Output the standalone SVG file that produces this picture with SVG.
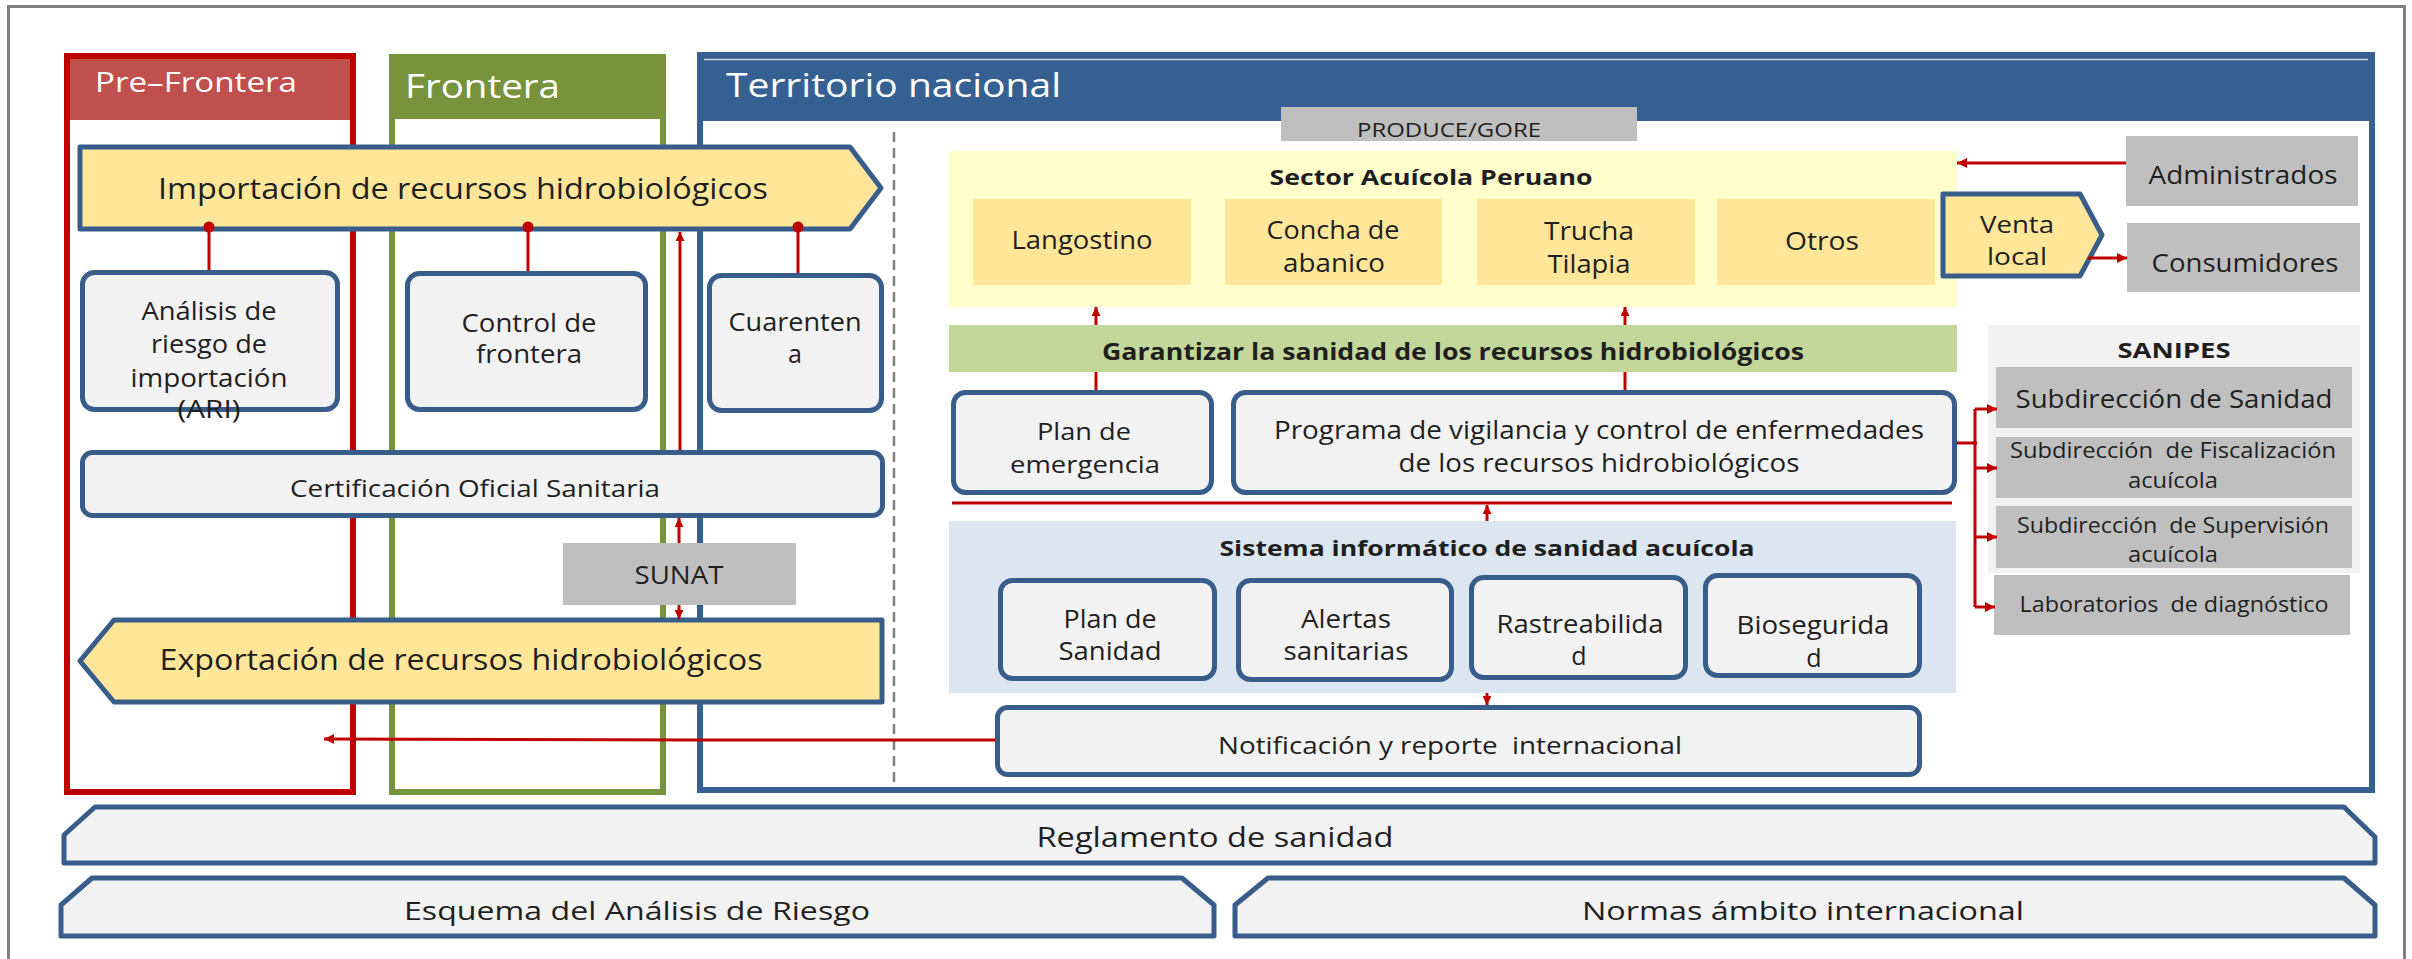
<svg xmlns="http://www.w3.org/2000/svg" width="2412" height="959" viewBox="0 0 2412 959">
<defs>
<style>
text { font-family: "Open Sans", "Liberation Sans", Arial, sans-serif; fill: #1f1f1f; text-anchor: middle; }
.b { font-weight: bold; }
.hdr { fill: #ffffff; text-anchor: start; }
.box { fill: #F2F2F2; stroke: #385D8A; stroke-width: 5; }
.arrowshape { fill: #FFE699; stroke: #385D8A; stroke-width: 5; stroke-linejoin: round; }
.banner { fill: #F2F2F2; stroke: #385D8A; stroke-width: 5; stroke-linejoin: round; }
.gray { fill: #BFBFBF; }
.sp { fill: #FFE699; }
.con { stroke: #C00000; stroke-width: 3; fill: none; }
.pre { white-space: pre; }
</style>
<marker id="ah" viewBox="0 0 10 10" refX="10" refY="5" markerUnits="userSpaceOnUse" markerWidth="13" markerHeight="10" orient="auto">
<path d="M0,0 L10,5 L0,10 z" fill="#C00000"/>
</marker>
<marker id="ahs" viewBox="0 0 10 10" refX="10" refY="5" markerUnits="userSpaceOnUse" markerWidth="11" markerHeight="9" orient="auto">
<path d="M0,0 L10,5 L0,10 z" fill="#C00000"/>
</marker>
</defs>

<rect x="0" y="0" width="2412" height="959" fill="#ffffff"/>
<rect id="frame" x="8.5" y="6.5" width="2396" height="970" fill="none" stroke="#808080" stroke-width="3"/>

<!-- Columns -->
<g id="col-prefrontera">
<rect x="67" y="56" width="286" height="736" fill="#ffffff"/>
<rect x="67" y="56" width="286" height="64" fill="#C0504D"/>
<rect x="67" y="56" width="286" height="736" fill="none" stroke="#C00000" stroke-width="6"/>
<text class="hdr" x="95" y="92" font-size="28" textLength="202" lengthAdjust="spacingAndGlyphs">Pre–Frontera</text>
</g>
<g id="col-frontera">
<rect x="392" y="57" width="271" height="735" fill="#ffffff"/>
<rect x="392" y="57" width="271" height="62" fill="#77933C"/>
<rect x="392" y="57" width="271" height="735" fill="none" stroke="#77933C" stroke-width="6"/>
<text class="hdr" x="405" y="98" font-size="32" textLength="155" lengthAdjust="spacingAndGlyphs">Frontera</text>
</g>
<g id="col-territorio">
<rect x="700" y="55" width="1672" height="735" fill="#ffffff"/>
<rect x="700" y="55" width="1672" height="66" fill="#376092"/>
<rect x="700" y="55" width="1672" height="735" fill="none" stroke="#376092" stroke-width="6"/>
<line x1="704" y1="59.5" x2="2368" y2="59.5" stroke="#c9d3e0" stroke-width="1.5"/>
<text class="hdr" x="726" y="97" font-size="33" textLength="335" lengthAdjust="spacingAndGlyphs">Territorio nacional</text>
<line x1="894" y1="132" x2="894" y2="786" stroke="#808080" stroke-width="2.5" stroke-dasharray="10,6"/>
</g>

<!-- Left side nodes -->
<g id="importacion">
<polygon class="arrowshape" points="80,147 850,147 881,188 850,229 80,229"/>
<text x="463" y="199" font-size="30" textLength="610" lengthAdjust="spacingAndGlyphs">Importación de recursos hidrobiológicos</text>
</g>
<g id="ari">
<rect class="box" x="82.5" y="272.5" width="255" height="137" rx="12"/>
<text x="209" y="320" font-size="25" textLength="135" lengthAdjust="spacingAndGlyphs">Análisis de</text>
<text x="209" y="353" font-size="25" textLength="116" lengthAdjust="spacingAndGlyphs">riesgo de</text>
<text x="209" y="387" font-size="25" textLength="157" lengthAdjust="spacingAndGlyphs">importación</text>
<text x="209" y="418" font-size="25" textLength="63" lengthAdjust="spacingAndGlyphs">(ARI)</text>
</g>
<g id="control-frontera">
<rect class="box" x="407.5" y="273.5" width="238" height="136" rx="12"/>
<text x="529" y="332" font-size="25" textLength="135" lengthAdjust="spacingAndGlyphs">Control de</text>
<text x="529" y="363" font-size="25" textLength="106" lengthAdjust="spacingAndGlyphs">frontera</text>
</g>
<g id="cuarentena">
<rect class="box" x="709.5" y="275.5" width="172" height="135" rx="12"/>
<text x="795" y="331" font-size="25" textLength="133" lengthAdjust="spacingAndGlyphs">Cuarenten</text>
<text x="795" y="363" font-size="25">a</text>
</g>
<g id="certificacion">
<rect class="box" x="82.5" y="452.5" width="800" height="63" rx="10"/>
<text x="475" y="497" font-size="24" textLength="370" lengthAdjust="spacingAndGlyphs">Certificación Oficial Sanitaria</text>
</g>
<g id="sunat">
<rect class="gray" x="563" y="543" width="233" height="62"/>
<text x="679" y="584" font-size="25" textLength="89" lengthAdjust="spacingAndGlyphs">SUNAT</text>
</g>
<g id="exportacion">
<polygon class="arrowshape" points="114,620 882,620 882,702 114,702 80,661"/>
<text x="461" y="670" font-size="30" textLength="603" lengthAdjust="spacingAndGlyphs">Exportación de recursos hidrobiológicos</text>
</g>

<!-- Territorio nacional nodes -->
<g id="produce-gore">
<rect class="gray" x="1281" y="107" width="356" height="34"/>
<text x="1449" y="137" font-size="20" textLength="184" lengthAdjust="spacingAndGlyphs">PRODUCE/GORE</text>
</g>
<g id="sector-acuicola">
<rect x="949" y="151" width="1008" height="156" fill="#FFFFCC"/>
<text class="b" x="1431" y="185" font-size="22" textLength="323" lengthAdjust="spacingAndGlyphs">Sector Acuícola Peruano</text>
<rect class="sp" x="973" y="199" width="218" height="86"/>
<text x="1082" y="249" font-size="25" textLength="141" lengthAdjust="spacingAndGlyphs">Langostino</text>
<rect class="sp" x="1225" y="199" width="217" height="86"/>
<text x="1333" y="239" font-size="25" textLength="133" lengthAdjust="spacingAndGlyphs">Concha de</text>
<text x="1334" y="272" font-size="25" textLength="102" lengthAdjust="spacingAndGlyphs">abanico</text>
<rect class="sp" x="1477" y="199" width="218" height="86"/>
<text x="1589" y="240" font-size="25" textLength="90" lengthAdjust="spacingAndGlyphs">Trucha</text>
<text x="1589" y="273" font-size="25" textLength="83" lengthAdjust="spacingAndGlyphs">Tilapia</text>
<rect class="sp" x="1717" y="199" width="218" height="86"/>
<text x="1822" y="250" font-size="25" textLength="74" lengthAdjust="spacingAndGlyphs">Otros</text>
</g>
<g id="venta-local">
<polygon class="arrowshape" points="1943,194 2080,194 2102,235 2080,276 1943,276"/>
<text x="2017" y="233" font-size="23" textLength="74" lengthAdjust="spacingAndGlyphs">Venta</text>
<text x="2017" y="265" font-size="23" textLength="60" lengthAdjust="spacingAndGlyphs">local</text>
</g>
<g id="administrados">
<rect class="gray" x="2126" y="136" width="232" height="70"/>
<text x="2243" y="184" font-size="25" textLength="189" lengthAdjust="spacingAndGlyphs">Administrados</text>
</g>
<g id="consumidores">
<rect class="gray" x="2127" y="223" width="233" height="69"/>
<text x="2245" y="272" font-size="25" textLength="187" lengthAdjust="spacingAndGlyphs">Consumidores</text>
</g>
<g id="garantizar">
<rect x="949" y="325" width="1008" height="47" fill="#C4D79B"/>
<text class="b" x="1453" y="360" font-size="23" textLength="702" lengthAdjust="spacingAndGlyphs">Garantizar la sanidad de los recursos hidrobiológicos</text>
</g>
<g id="plan-emergencia">
<rect class="box" x="953.5" y="392.5" width="258" height="100" rx="12"/>
<text x="1084" y="440" font-size="24" textLength="94" lengthAdjust="spacingAndGlyphs">Plan de</text>
<text x="1085" y="473" font-size="24" textLength="150" lengthAdjust="spacingAndGlyphs">emergencia</text>
</g>
<g id="programa-vigilancia">
<rect class="box" x="1233.5" y="392.5" width="721" height="100" rx="12"/>
<text x="1599" y="439" font-size="25" textLength="650" lengthAdjust="spacingAndGlyphs">Programa de vigilancia y control de enfermedades</text>
<text x="1599" y="472" font-size="25" textLength="401" lengthAdjust="spacingAndGlyphs">de los recursos hidrobiológicos</text>
</g>
<g id="sistema-informatico">
<rect x="949" y="521" width="1007" height="172" fill="#DCE6F1"/>
<text class="b" x="1487" y="556" font-size="22" textLength="535" lengthAdjust="spacingAndGlyphs">Sistema informático de sanidad acuícola</text>
</g>
<g id="plan-sanidad">
<rect class="box" x="1000.5" y="580.5" width="214" height="98" rx="12"/>
<text x="1110" y="628" font-size="25" textLength="93" lengthAdjust="spacingAndGlyphs">Plan de</text>
<text x="1110" y="660" font-size="25" textLength="103" lengthAdjust="spacingAndGlyphs">Sanidad</text>
</g>
<g id="alertas">
<rect class="box" x="1238.5" y="580.5" width="213" height="99" rx="12"/>
<text x="1346" y="628" font-size="25" textLength="90" lengthAdjust="spacingAndGlyphs">Alertas</text>
<text x="1346" y="660" font-size="25" textLength="125" lengthAdjust="spacingAndGlyphs">sanitarias</text>
</g>
<g id="rastreabilidad">
<rect class="box" x="1471.5" y="577.5" width="214" height="100" rx="12"/>
<text x="1580" y="633" font-size="25" textLength="167" lengthAdjust="spacingAndGlyphs">Rastreabilida</text>
<text x="1579" y="665" font-size="25">d</text>
</g>
<g id="bioseguridad">
<rect class="box" x="1705.5" y="575.5" width="214" height="100" rx="12"/>
<text x="1813" y="634" font-size="25" textLength="153" lengthAdjust="spacingAndGlyphs">Biosegurida</text>
<text x="1814" y="667" font-size="25">d</text>
</g>
<g id="notificacion">
<rect class="box" x="997.5" y="707.5" width="922" height="67" rx="10"/>
<text class="pre" x="1450" y="754" font-size="24" textLength="464" lengthAdjust="spacingAndGlyphs">Notificación y reporte  internacional</text>
</g>
<g id="sanipes">
<rect x="1988" y="325" width="372" height="248" fill="#F2F2F2"/>
<text class="b" x="2174" y="358" font-size="21" textLength="113" lengthAdjust="spacingAndGlyphs">SANIPES</text>
<rect class="gray" x="1996" y="367" width="356" height="61"/>
<text x="2174" y="408" font-size="25" textLength="317" lengthAdjust="spacingAndGlyphs">Subdirección de Sanidad</text>
<rect class="gray" x="1996" y="437" width="356" height="61"/>
<text class="pre" x="2173" y="458" font-size="21" textLength="326" lengthAdjust="spacingAndGlyphs">Subdirección  de Fiscalización</text>
<text x="2173" y="488" font-size="21" textLength="90" lengthAdjust="spacingAndGlyphs">acuícola</text>
<rect class="gray" x="1996" y="506" width="356" height="62"/>
<text class="pre" x="2173" y="533" font-size="21" textLength="312" lengthAdjust="spacingAndGlyphs">Subdirección  de Supervisión</text>
<text x="2173" y="562" font-size="21" textLength="90" lengthAdjust="spacingAndGlyphs">acuícola</text>
</g>
<g id="laboratorios">
<rect class="gray" x="1994" y="575" width="356" height="60"/>
<text class="pre" x="2174" y="612" font-size="21" textLength="309" lengthAdjust="spacingAndGlyphs">Laboratorios  de diagnóstico</text>
</g>

<!-- Bottom banners -->
<g id="reglamento">
<polygon class="banner" points="64,863 64,835 95,807 2344,807 2375,837 2375,863"/>
<text x="1215" y="847" font-size="27" textLength="357" lengthAdjust="spacingAndGlyphs">Reglamento de sanidad</text>
</g>
<g id="esquema">
<polygon class="banner" points="61,936 61,905 92,878 1182,878 1214,905 1214,936"/>
<text x="637" y="920" font-size="26" textLength="466" lengthAdjust="spacingAndGlyphs">Esquema del Análisis de Riesgo</text>
</g>
<g id="normas">
<polygon class="banner" points="1235,936 1235,905 1268,878 2344,878 2375,905 2375,936"/>
<text x="1803" y="920" font-size="26" textLength="442" lengthAdjust="spacingAndGlyphs">Normas ámbito internacional</text>
</g>

<!-- Connectors -->
<g id="connectors">
<circle cx="209" cy="227" r="5.5" fill="#C00000"/>
<circle cx="528" cy="227" r="5.5" fill="#C00000"/>
<circle cx="798" cy="227" r="5.5" fill="#C00000"/>
<line class="con" x1="209" y1="227" x2="209" y2="270"/>
<line class="con" x1="528" y1="227" x2="528" y2="271"/>
<line class="con" x1="798" y1="227" x2="798" y2="273"/>
<line class="con" x1="680" y1="450" x2="680" y2="232" marker-end="url(#ahs)"/>
<line class="con" x1="679" y1="543" x2="679" y2="518" marker-end="url(#ahs)"/>
<line class="con" x1="679" y1="605" x2="679" y2="619" marker-end="url(#ahs)"/>
<polyline class="con" points="995,740 700,740 324,739" marker-end="url(#ah)"/>
<line class="con" x1="2126" y1="163" x2="1957" y2="163" marker-end="url(#ah)"/>
<line class="con" x1="2088" y1="258" x2="2127" y2="258" marker-end="url(#ah)"/>
<line class="con" x1="1096" y1="325" x2="1096" y2="307" marker-end="url(#ahs)"/>
<line class="con" x1="1625" y1="325" x2="1625" y2="307" marker-end="url(#ahs)"/>
<line class="con" x1="1096" y1="390" x2="1096" y2="372"/>
<line class="con" x1="1625" y1="390" x2="1625" y2="372"/>
<line class="con" x1="952" y1="503" x2="1952" y2="503"/>
<line class="con" x1="1487" y1="521" x2="1487" y2="505" marker-end="url(#ahs)"/>
<line class="con" x1="1487" y1="693" x2="1487" y2="705" marker-end="url(#ahs)"/>
<path class="con" d="M1957,443 H1977 M1975,409 V607"/>
<line class="con" x1="1975" y1="409" x2="1997" y2="409" marker-end="url(#ah)"/>
<line class="con" x1="1975" y1="468" x2="1997" y2="468" marker-end="url(#ah)"/>
<line class="con" x1="1975" y1="537" x2="1997" y2="537" marker-end="url(#ah)"/>
<line class="con" x1="1975" y1="607" x2="1995" y2="607" marker-end="url(#ah)"/>
</g>
</svg>
